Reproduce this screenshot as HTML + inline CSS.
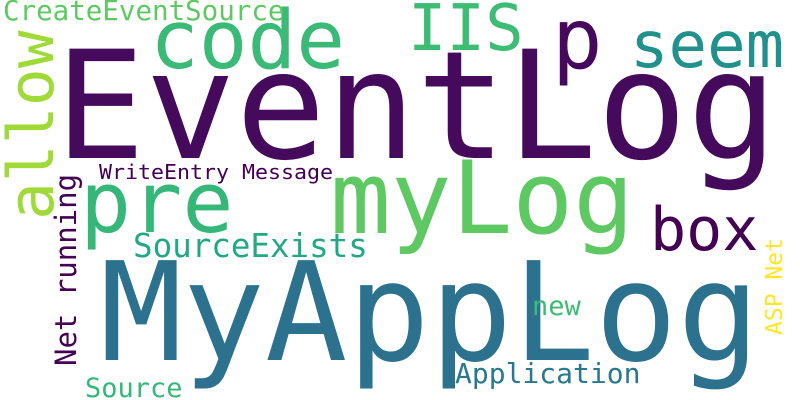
<!DOCTYPE html>
<html><head><meta charset="utf-8"><style>
html,body{margin:0;padding:0;background:#fff}
svg{display:block}
text{font-family:"DejaVu Sans Mono","Liberation Mono",monospace}
</style></head><body>
<svg width="800" height="400" viewBox="0 0 800 400">
<rect width="800" height="400" fill="#fff"/>
<text x="55" y="158" font-size="150" fill="#450a5c">EventLog</text>
<text x="100" y="360" font-size="137" fill="#2c728e">MyAppLog</text>
<text x="150" y="68" font-size="81" fill="#3aba76">code</text>
<text x="3" y="20" font-size="27.5" fill="#5ec962">CreateEventSource</text>
<text transform="translate(53,220) rotate(-90)" font-size="63" fill="#a0da39">allow</text>
<text x="80" y="232" font-size="85" fill="#35b779">pre</text>
<text x="99" y="179" font-size="20" fill="#440154" textLength="234" lengthAdjust="spacingAndGlyphs">WriteEntry Message</text>
<text transform="translate(76,366) rotate(-90)" font-size="29" fill="#440154">Net running</text>
<text x="133" y="257" font-size="32.5" fill="#22a884">SourceExists</text>
<text x="330" y="233" font-size="101" fill="#5ec962">myLog</text>
<text x="650" y="250" font-size="60" fill="#440154">box</text>
<text x="408" y="50" font-size="64" fill="#3dbc74">IIS</text>
<text x="552" y="68" font-size="84" fill="#46085c">p</text>
<text x="630" y="67" font-size="64" fill="#21918c">seem</text>
<text transform="translate(782,335) rotate(-90)" font-size="23" fill="#fde725">ASP Net</text>
<text x="532" y="315" font-size="27" fill="#3bbb75">new</text>
<text x="455" y="383" font-size="28" fill="#2a788e">Application</text>
<text x="85" y="397" font-size="27" fill="#35b779">Source</text>
</svg>
</body></html>
